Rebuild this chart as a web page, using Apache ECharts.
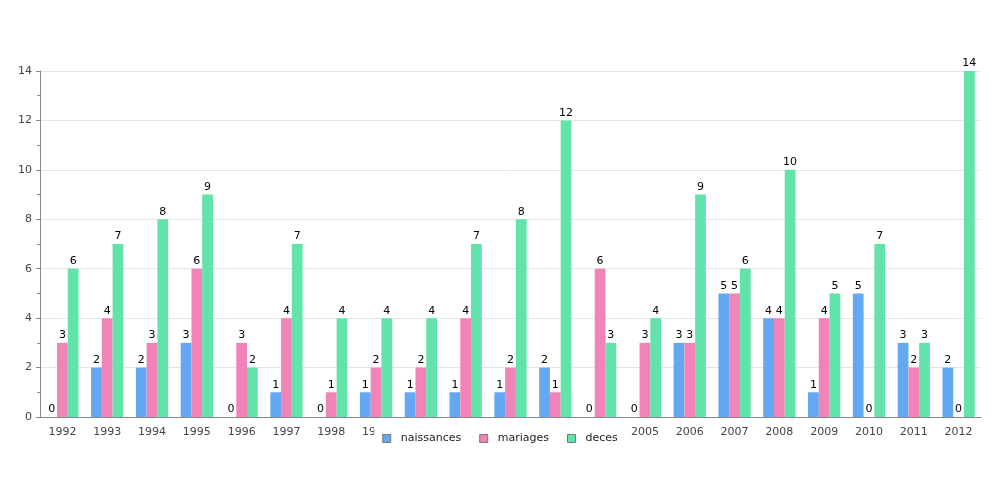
<!DOCTYPE html>
<html><head><meta charset="utf-8">
<script src="https://cdn.jsdelivr.net/npm/echarts@6/dist/echarts.min.js"></script>
<style>html,body{margin:0;padding:0;background:#fff}#c{width:1000px;height:500px}</style>
</head><body><div id="c"></div>
<script>
const years = ['1992','1993','1994','1995','1996','1997','1998','1999','2000','2001','2002','2003','2004','2005','2006','2007','2008','2009','2010','2011','2012'];
const naissances = [0,2,2,3,0,1,0,1,1,1,1,2,0,0,3,5,4,1,5,3,2];
const mariages = [3,4,3,6,3,4,1,2,2,4,2,1,6,3,3,5,4,4,0,2,0];
const deces = [6,7,8,9,2,7,4,4,4,7,8,12,3,4,9,6,10,5,7,3,14];
const yTicks = [0,2,4,6,8,10,12,14];

const font = 'DejaVu Sans';
const chart = echarts.init(document.getElementById('c'));
const lab = {show:true, position:'top', color:'#000', fontSize:11, fontFamily:font, distance:2};
function s(name, data, color){
  return {name, type:'bar', data, barGap:'0%', barCategoryGap:'28%',
    itemStyle:{color}, label:lab, emphasis:{disabled:true}};
}
chart.setOption({
  animation:false,
  grid:{left:40, right:19, top:71, bottom:83},
  legend:{
    top:424, left:'center', icon:'rect', itemWidth:8, itemHeight:8, itemGap:18, z:10,
    backgroundColor:'#fff', padding:[9,8,6,8],
    textStyle:{fontFamily:font, fontSize:11, color:'#222', padding:[0,0,0,5]},
    itemStyle:{borderColor:'#777', borderWidth:1},
    data:['naissances','mariages','deces']
  },
  xAxis:{type:'category', data:years,
    axisLine:{lineStyle:{color:'#888'}}, axisTick:{show:false},
    axisLabel:{fontFamily:font, fontSize:11, color:'#444', margin:10, interval:0}},
  yAxis:{type:'value', min:yTicks[0], max:yTicks[yTicks.length-1], interval:2,
    axisLine:{show:true, lineStyle:{color:'#888'}},
    axisTick:{show:true, length:4, lineStyle:{color:'#888'}},
    minorTick:{show:true, splitNumber:2, length:3, lineStyle:{color:'#888'}},
    splitLine:{lineStyle:{color:'#e4e4e4'}},
    axisLabel:{fontFamily:font, fontSize:11, color:'#444', margin:8}},
  series:[s('naissances', naissances, '#62a8f2'), s('mariages', mariages, '#f283b8'), s('deces', deces, '#62e3a9')]
});
</script></body></html>
